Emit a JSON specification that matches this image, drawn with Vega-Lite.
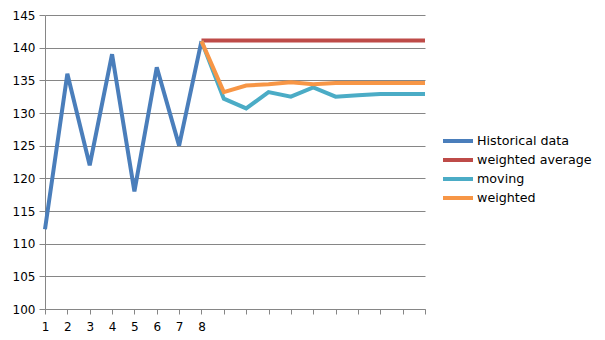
{
  "$schema": "https://vega.github.io/schema/vega-lite/v6.json",
  "width": 380,
  "height": 294,
  "autosize": {"type": "none"},
  "padding": {"left": 45, "top": 15, "right": 180, "bottom": 31},
  "background": "white",
  "config": {
    "view": {"stroke": null},
    "font": "DejaVu Sans"
  },
  "data": {
    "values": [
      {"x": 1, "series": "Historical data", "value": 112.2},
      {"x": 2, "series": "Historical data", "value": 136},
      {"x": 3, "series": "Historical data", "value": 122},
      {"x": 4, "series": "Historical data", "value": 139},
      {"x": 5, "series": "Historical data", "value": 118},
      {"x": 6, "series": "Historical data", "value": 137},
      {"x": 7, "series": "Historical data", "value": 125},
      {"x": 8, "series": "Historical data", "value": 141},
      {"x": 8, "series": "weighted average", "value": 141.1},
      {"x": 9, "series": "weighted average", "value": 141.1},
      {"x": 10, "series": "weighted average", "value": 141.1},
      {"x": 11, "series": "weighted average", "value": 141.1},
      {"x": 12, "series": "weighted average", "value": 141.1},
      {"x": 13, "series": "weighted average", "value": 141.1},
      {"x": 14, "series": "weighted average", "value": 141.1},
      {"x": 15, "series": "weighted average", "value": 141.1},
      {"x": 16, "series": "weighted average", "value": 141.1},
      {"x": 17, "series": "weighted average", "value": 141.1},
      {"x": 18, "series": "weighted average", "value": 141.1},
      {"x": 8, "series": "moving", "value": 141},
      {"x": 9, "series": "moving", "value": 132.2},
      {"x": 10, "series": "moving", "value": 130.7},
      {"x": 11, "series": "moving", "value": 133.2},
      {"x": 12, "series": "moving", "value": 132.5},
      {"x": 13, "series": "moving", "value": 133.9},
      {"x": 14, "series": "moving", "value": 132.5},
      {"x": 15, "series": "moving", "value": 132.7},
      {"x": 16, "series": "moving", "value": 132.9},
      {"x": 17, "series": "moving", "value": 132.9},
      {"x": 18, "series": "moving", "value": 132.9},
      {"x": 8, "series": "weighted", "value": 141},
      {"x": 9, "series": "weighted", "value": 133.2},
      {"x": 10, "series": "weighted", "value": 134.2},
      {"x": 11, "series": "weighted", "value": 134.4},
      {"x": 12, "series": "weighted", "value": 134.7},
      {"x": 13, "series": "weighted", "value": 134.4},
      {"x": 14, "series": "weighted", "value": 134.6},
      {"x": 15, "series": "weighted", "value": 134.6},
      {"x": 16, "series": "weighted", "value": 134.6},
      {"x": 17, "series": "weighted", "value": 134.6},
      {"x": 18, "series": "weighted", "value": 134.6}
    ]
  },
  "mark": {"type": "line", "strokeWidth": 4, "strokeJoin": "miter", "strokeCap": "butt"},
  "encoding": {
    "x": {
      "field": "x",
      "type": "ordinal",
      "sort": "ascending",
      "scale": {"type": "point", "padding": 0},
      "axis": {
        "title": null,
        "labelAngle": 0,
        "labelExpr": "datum.value <= 8 ? datum.label : ''",
        "labelFontSize": 12,
        "labelColor": "#000000",
        "labelPadding": 7,
        "tickSize": 5,
        "tickColor": "#868686",
        "domainColor": "#868686",
        "grid": false
      }
    },
    "y": {
      "field": "value",
      "type": "quantitative",
      "scale": {"domain": [100, 145], "nice": false, "zero": false},
      "axis": {
        "title": null,
        "values": [100, 105, 110, 115, 120, 125, 130, 135, 140, 145],
        "labelFontSize": 12,
        "labelColor": "#000000",
        "labelPadding": 4,
        "tickSize": 6,
        "tickColor": "#868686",
        "domainColor": "#868686",
        "gridColor": "#868686",
        "gridOpacity": 1
      }
    },
    "color": {
      "field": "series",
      "type": "nominal",
      "sort": ["Historical data", "weighted average", "moving", "weighted"],
      "scale": {
        "domain": ["Historical data", "weighted average", "moving", "weighted"],
        "range": ["#4A7EBB", "#BE4B48", "#4BACC6", "#F79646"]
      },
      "legend": {
        "title": null,
        "orient": "none",
        "legendX": 406,
        "legendY": 119,
        "symbolType": "M-3,0H3",
        "symbolSize": 100,
        "symbolStrokeWidth": 4,
        "labelFontSize": 12.7,
        "labelColor": "#000000",
        "labelOffset": 12,
        "rowPadding": 3,
        "padding": 0
      }
    },
    "order": {"field": "x", "type": "quantitative"}
  }
}
